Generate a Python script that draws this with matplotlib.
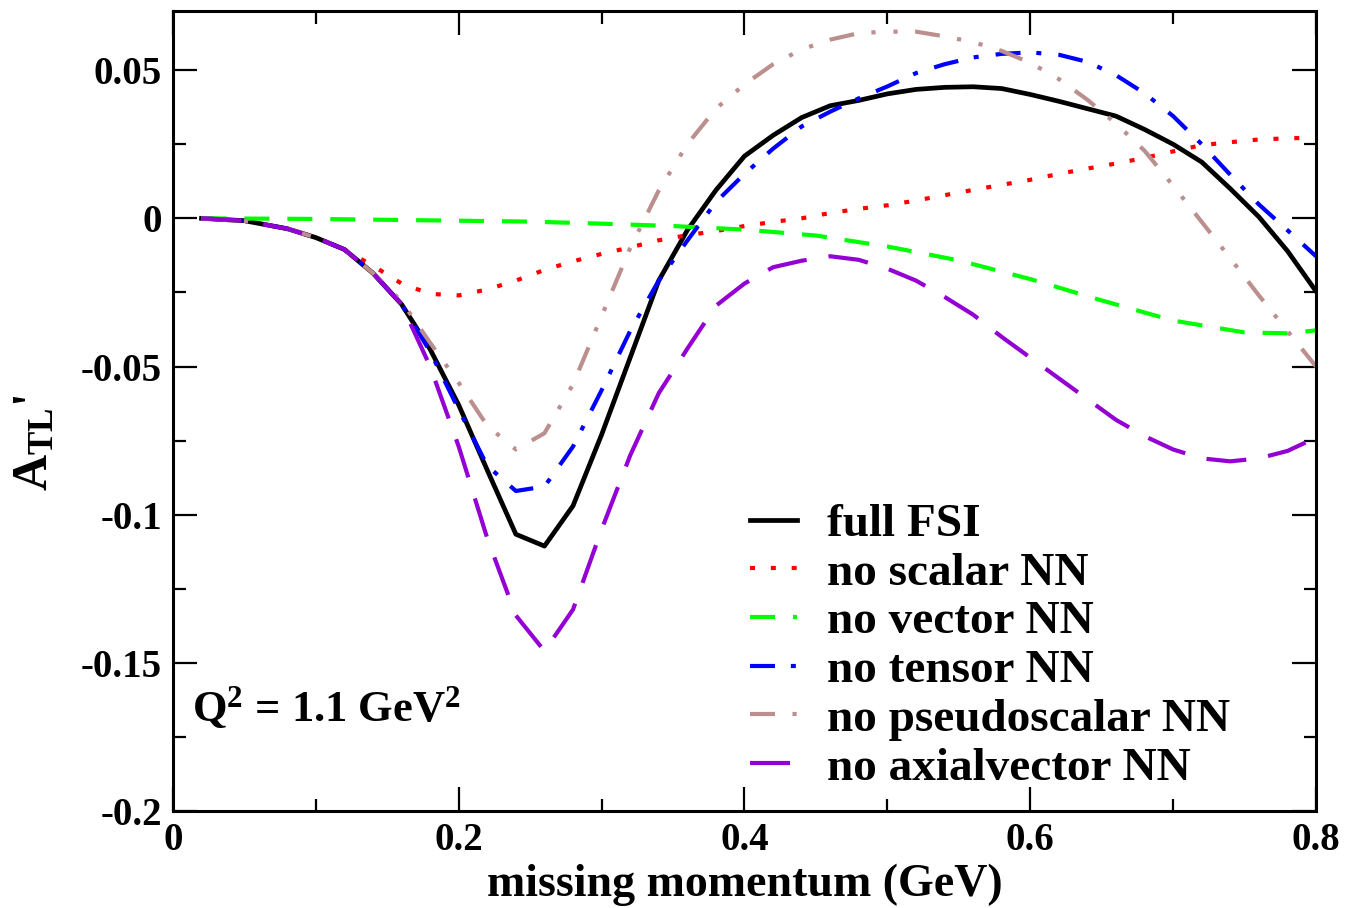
import matplotlib
matplotlib.use("Agg")
import matplotlib.pyplot as plt
from matplotlib.ticker import MultipleLocator

plt.rcParams['font.family'] = ['Liberation Serif', 'DejaVu Serif']
plt.rcParams['font.weight'] = 'bold'
plt.rcParams['axes.labelweight'] = 'bold'
plt.rcParams['mathtext.fontset'] = 'custom'
plt.rcParams['mathtext.rm'] = 'Liberation Serif:bold'
plt.rcParams['mathtext.bf'] = 'Liberation Serif:bold'
plt.rcParams['mathtext.it'] = 'Liberation Serif:bold:italic'
plt.rcParams['axes.unicode_minus'] = False

# missing momentum grid (GeV)
pm = [0.02, 0.05, 0.08, 0.10, 0.12, 0.14, 0.16, 0.18, 0.20, 0.22, 0.24,
      0.26, 0.28, 0.30, 0.32, 0.34, 0.36, 0.38, 0.40, 0.42, 0.44, 0.46,
      0.48, 0.50, 0.52, 0.54, 0.56, 0.58, 0.60, 0.62, 0.64, 0.66, 0.68,
      0.70, 0.72, 0.74, 0.76, 0.78, 0.80]

full_fsi = [0.0, -0.0008, -0.0035, -0.0065, -0.0105, -0.0185, -0.029, -0.0442,
            -0.063, -0.085, -0.1066, -0.1106, -0.097, -0.073, -0.047, -0.021,
            -0.004, 0.0095, 0.021, 0.028, 0.034, 0.038, 0.0398, 0.042, 0.0435,
            0.0442, 0.0444, 0.0438, 0.0418, 0.0395, 0.037, 0.0345, 0.030,
            0.025, 0.019, 0.010, 0.0005, -0.011, -0.0246]

no_scalar = [0.0, -0.0008, -0.0035, -0.0065, -0.0105, -0.016, -0.022, -0.0255,
             -0.026, -0.024, -0.021, -0.0174, -0.0145, -0.012, -0.0098, -0.0074,
             -0.0057, -0.0043, -0.0026, -0.0012, 0.0, 0.0018, 0.0032, 0.0044,
             0.006, 0.0078, 0.0096, 0.0113, 0.013, 0.015, 0.0168, 0.0185,
             0.0204, 0.0226, 0.0247, 0.0257, 0.0266, 0.027, 0.0272]

pm_vec = [0.02, 0.10, 0.15, 0.20, 0.25, 0.30, 0.35, 0.40, 0.45, 0.50, 0.55,
          0.60, 0.65, 0.70, 0.75, 0.78, 0.80]
no_vector = [0.0, -0.0002, -0.0005, -0.0008, -0.0011, -0.0018, -0.0026,
             -0.0038, -0.0058, -0.0095, -0.0142, -0.0205, -0.0277, -0.0345,
             -0.0385, -0.0388, -0.0378]

no_tensor = [0.0, -0.0008, -0.0035, -0.0065, -0.0105, -0.0185, -0.029, -0.045,
             -0.0645, -0.0835, -0.092, -0.0905, -0.077, -0.058, -0.038, -0.021,
             -0.0075, 0.0055, 0.015, 0.0235, 0.031, 0.036, 0.0405, 0.0445,
             0.049, 0.052, 0.0543, 0.0555, 0.056, 0.0552, 0.0528, 0.0483,
             0.0422, 0.0345, 0.025, 0.0147, 0.0047, -0.004, -0.0128]

no_pseudoscalar = [0.0, -0.0008, -0.0035, -0.0065, -0.0105, -0.0185, -0.028,
                   -0.042, -0.0555, -0.070, -0.078, -0.0725, -0.056, -0.033,
                   -0.010, 0.0094, 0.025, 0.037, 0.0452, 0.052, 0.057, 0.0603,
                   0.0625, 0.063, 0.063, 0.0614, 0.0595, 0.0565, 0.0525, 0.047,
                   0.040, 0.032, 0.0228, 0.011, -0.0012, -0.0135, -0.026,
                   -0.038, -0.050]

no_axialvector = [0.0, -0.0008, -0.0035, -0.0065, -0.0105, -0.0185, -0.029,
                  -0.050, -0.077, -0.108, -0.134, -0.146, -0.132, -0.105,
                  -0.080, -0.059, -0.044, -0.0295, -0.022, -0.0165, -0.0143,
                  -0.0128, -0.014, -0.017, -0.021, -0.0265, -0.0325, -0.040,
                  -0.047, -0.054, -0.061, -0.068, -0.0735, -0.078, -0.081,
                  -0.082, -0.081, -0.0785, -0.074]

fig = plt.figure(figsize=(13.47, 9.08), dpi=100)
ax = fig.add_axes([0.1284, 0.1068, 0.8486, 0.8812])

ax.plot(pm, full_fsi, color='black', lw=3.4, label='full FSI')
ax.plot(pm, no_scalar, color='red', lw=3, dashes=(1.2, 3.8), label='no scalar NN')
ax.plot(pm_vec, no_vector, color='#00ff00', lw=3, dashes=(6, 4.3), label='no vector NN')
ax.plot(pm, no_tensor, color='blue', lw=3, dashes=(6, 3.8, 1.2, 4.1), label='no tensor NN')
ax.plot(pm, no_pseudoscalar, color='#bc8f8f', lw=3,
        dashes=(6, 4.2, 1, 4.3, 1, 4.2), label='no pseudoscalar NN')
ax.plot(pm, no_axialvector, color='#9400d3', lw=3, dashes=(9.6, 5.3),
        label='no axialvector NN')

ax.set_xlim(0, 0.8)
ax.set_ylim(-0.2, 0.07)
ax.xaxis.set_minor_locator(MultipleLocator(0.1))
ax.yaxis.set_minor_locator(MultipleLocator(0.025))
ax.set_xticks([0, 0.2, 0.4, 0.6, 0.8])
ax.set_xticklabels(['0', '0.2', '0.4', '0.6', '0.8'])
ax.set_yticks([-0.2, -0.15, -0.1, -0.05, 0, 0.05])
ax.set_yticklabels(['-0.2', '-0.15', '-0.1', '-0.05', '0', '0.05'])

ax.tick_params(which='both', direction='in', top=True, right=True,
               labelsize=28, width=1.6)
ax.tick_params(which='major', length=17, pad=8)
ax.tick_params(which='minor', length=9)
for sp in ax.spines.values():
    sp.set_linewidth(2.2)

ax.set_xlabel('missing momentum (GeV)', fontsize=33, labelpad=3)
ax.set_ylabel(r"A$_{\mathbf{TL}}$'", fontsize=36, labelpad=16)
ax.yaxis.label.set_y(0.46)

ax.text(0.017, 0.112, r"Q$^{2}$ = 1.1 GeV$^{2}$", transform=ax.transAxes,
        fontsize=32)

ax.legend(loc='upper left', bbox_to_anchor=(0.505, 0.385), frameon=False,
          fontsize=34, handlelength=1.0, handletextpad=0.62, labelspacing=0.12,
          borderpad=0, borderaxespad=0)

fig.savefig('out.png', dpi=100)
